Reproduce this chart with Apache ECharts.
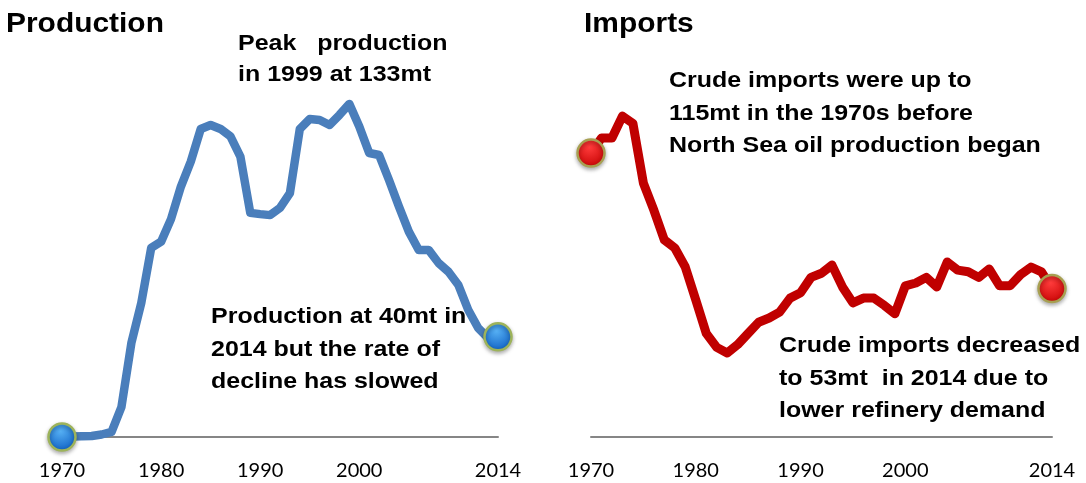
<!DOCTYPE html>
<html>
<head>
<meta charset="utf-8">
<script src="https://cdn.jsdelivr.net/npm/echarts@6/dist/echarts.min.js"></script>
<style>
  html, body { margin: 0; padding: 0; background: #fff; }
  #chart { width: 1086px; height: 483px; }
</style>
</head>
<body>
<div id="chart"></div>
<script>
// years shared by both panels
const years = [];
for (let y = 1970; y <= 2014; y++) years.push(y);

// UK crude production, mt
const production = [
  0, 0.2, 0.3, 0.4, 1, 2, 12, 37.5, 53.5, 75.5,
  78, 87, 100, 110, 123, 124.6, 123, 120, 112, 89.5,
  89, 88.6, 91.5, 97.4, 123, 127, 126.6, 124.6, 128.6, 133,
  124, 113.4, 112.6, 102.6, 92, 82, 74.7, 74.7, 69.5, 66,
  60.7, 50.7, 43.5, 39.5, 40
];

// UK crude imports, mt
const imports = [
  101.4, 106.8, 106.8, 114.6, 112, 90.7, 81, 70.4, 67.5, 60.7,
  49, 37, 32, 30, 33, 37, 41, 42.5, 44.6, 49.6,
  51.5, 57, 58.5, 61.4, 53.6, 47.9, 49.6, 49.6, 47, 44,
  54, 55, 57, 53.6, 62.5, 59.6, 59, 57, 60, 54,
  54, 58, 60.7, 59, 53
];

const tickYears = [1970, 1980, 1990, 2000, 2014];

const titles = ['Production', 'Imports'];
const notes = {
  peak: 'Peak   production\nin 1999 at 133mt',
  prodEnd: 'Production at 40mt in\n2014 but the rate of\ndecline has slowed',
  impStart: 'Crude imports were up to\n115mt in the 1970s before\nNorth Sea oil production began',
  impEnd: 'Crude imports decreased\nto 53mt  in 2014 due to\nlower refinery demand'
};

const chart = echarts.init(document.getElementById('chart'));

const pairs = (vals) => years.map((y, i) => [y, vals[i]]);
const ends = (vals) => [[years[0], vals[0]], [years[years.length - 1], vals[vals.length - 1]]];

function ball(light, dark) {
  return {
    type: 'radial', x: 0.45, y: 0.3, r: 0.75,
    colorStops: [{ offset: 0, color: light }, { offset: 1, color: dark }]
  };
}

function xAxisFor(grid) {
  return {
    gridIndex: grid,
    type: 'value',
    min: 1970,
    max: 2014,
    axisLine: { show: true, lineStyle: { color: '#868686', width: 2 } },
    axisTick: { show: false },
    splitLine: { show: false },
    axisLabel: {
      customValues: tickYears,
      margin: 24,
      color: '#000',
      fontFamily: 'Lato, "Open Sans", "Noto Sans", sans-serif',
      fontSize: 20,
      formatter: (v) => String(v)
    }
  };
}

function yAxisFor(grid, max) {
  return {
    gridIndex: grid, type: 'value', min: 0, max: max, show: false,
    splitLine: { show: false }
  };
}

const noteStyle = {
  fill: '#000', fontFamily: '"Liberation Sans", Arial, sans-serif', fontWeight: 'bold', fontSize: 22.5
};

function note(x, y, text, lh) {
  return {
    type: 'text', x: x, y: y, scaleX: 1.11, z: 100,
    style: Object.assign({}, noteStyle, { text: text, lineHeight: lh || 32.5, verticalAlign: 'top' })
  };
}

function title(x, text) {
  return {
    type: 'text', x: x, y: 9.5, scaleX: 1.05,
    style: { text: text, fill: '#000', fontFamily: '"Liberation Sans", Arial, sans-serif', fontWeight: 'bold', fontSize: 28.5, verticalAlign: 'top' }
  };
}

const option = {
  animation: false,
  grid: [
    { left: 62, right: 588, top: 86.4, bottom: 46 },
    { left: 591, right: 34, top: 101, bottom: 46 }
  ],
  xAxis: [xAxisFor(0), xAxisFor(1)],
  yAxis: [yAxisFor(0, 140), yAxisFor(1, 120)],
  series: [
    {
      type: 'line', xAxisIndex: 0, yAxisIndex: 0,
      data: pairs(production),
      symbol: 'none',
      lineStyle: { color: '#4a7ebb', width: 8.5, join: 'round', cap: 'round' }
    },
    {
      type: 'scatter', xAxisIndex: 0, yAxisIndex: 0,
      data: ends(production),
      symbolSize: 27,
      z: 5,
      itemStyle: {
        opacity: 1,
        color: ball('#56b0f4', '#0a5bc0'),
        borderColor: '#9db35a', borderWidth: 2.5,
        shadowColor: 'rgba(0,0,0,0.3)', shadowBlur: 4, shadowOffsetY: 2
      }
    },
    {
      type: 'line', xAxisIndex: 1, yAxisIndex: 1,
      data: pairs(imports),
      symbol: 'none',
      lineStyle: { color: '#c00000', width: 9, join: 'round', cap: 'round' }
    },
    {
      type: 'scatter', xAxisIndex: 1, yAxisIndex: 1,
      data: ends(imports),
      symbolSize: 27,
      z: 5,
      itemStyle: {
        opacity: 1,
        color: ball('#ff3c3c', '#c40000'),
        borderColor: '#a7a052', borderWidth: 2.5,
        shadowColor: 'rgba(0,0,0,0.3)', shadowBlur: 4, shadowOffsetY: 2
      }
    }
  ],
  graphic: [
    title(6, titles[0]),
    title(584, titles[1]),
    note(238, 28, notes.peak, 31),
    note(211, 301, notes.prodEnd),
    note(669, 65, notes.impStart),
    note(779, 330, notes.impEnd)
  ]
};

chart.setOption(option);
</script>
</body>
</html>
